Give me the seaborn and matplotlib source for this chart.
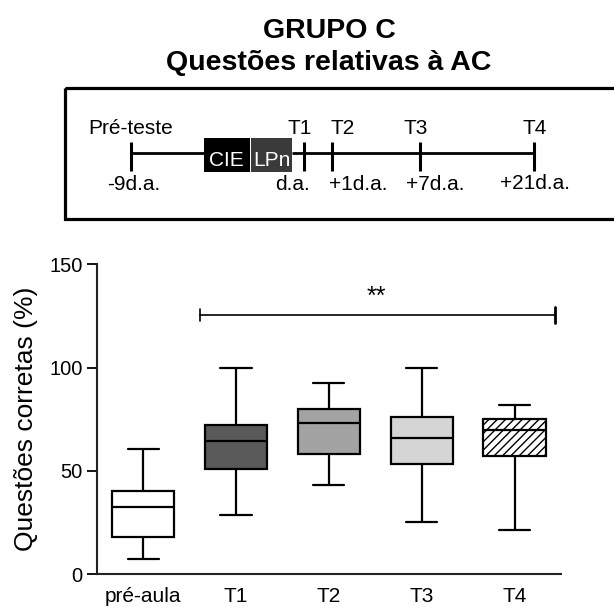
import numpy as np
import pandas as pd
import matplotlib
matplotlib.use("Agg")
import matplotlib.pyplot as plt
from matplotlib.patches import Rectangle
import seaborn as sns

# ---- data (five-number summaries) ----
groups = ["pré-aula", "T1", "T2", "T3", "T4"]
mins = [7.3, 28.6, 42.9, 25.0, 21.5]
q1s = [17.9, 50.8, 58.0, 53.4, 57.0]
medians = [32.4, 64.2, 73.0, 65.7, 69.6]
q3s = [40.0, 72.3, 80.1, 75.9, 74.9]
maxs = [60.5, 100.0, 92.5, 100.0, 82.0]
box_colors = ["#ffffff", "#595959", "#a3a3a3", "#d5d5d5", "#ffffff"]
yticks = [0, 50, 100, 150]

timeline_top = ["Pré-teste", "T1", "T2", "T3", "T4"]
timeline_bottom = ["-9d.a.", "d.a.", "+1d.a.", "+7d.a.", "+21d.a."]

rows = []
for g, a, b, c, d, e in zip(groups, mins, q1s, medians, q3s, maxs):
    for v in (a, b, c, d, e):
        rows.append({"grupo": g, "valor": v})
df = pd.DataFrame(rows)

sns.set_style("ticks")
plt.rcParams["font.family"] = ["Liberation Sans", "DejaVu Sans"]
plt.rcParams["hatch.linewidth"] = 1.0
for k in ("text.color", "axes.labelcolor", "xtick.color", "ytick.color", "axes.edgecolor"):
    plt.rcParams[k] = "black"

W, H = 614, 608
fig = plt.figure(figsize=(W / 100, H / 100), dpi=100)

# ---- overlay (title + timeline diagram) in pixel coordinates ----
ov = fig.add_axes([0, 0, 1, 1])
ov.set_xlim(0, W)
ov.set_ylim(H, 0)
ov.axis("off")
ov.patch.set_visible(False)

ov.text(329, 38.3, "GRUPO C", ha="center", va="baseline", fontsize=20.5, fontweight="bold")
ov.text(329, 70, "Questões relativas à AC", ha="center", va="baseline", fontsize=20.5, fontweight="bold")

ov.add_patch(Rectangle((65, 88.3), 600, 131, fill=False, lw=2.3, ec="black"))

line_y = 153.3
tick_x = [130.7, 304.3, 332.3, 420.0, 534.3]
ov.plot([130.7, 204], [line_y, line_y], color="black", lw=2.0, solid_capstyle="butt")
ov.plot([292.3, 534.3], [line_y, line_y], color="black", lw=2.0, solid_capstyle="butt")
for x in tick_x:
    ov.plot([x, x], [141.5, 171.0], color="black", lw=2.2, solid_capstyle="butt")
ov.add_patch(Rectangle((204, 138.3), 45.5, 34, color="black", lw=0))
ov.add_patch(Rectangle((250.7, 138.3), 41.6, 34, color="#3a3a3a", lw=0))
ov.text(226.8, 166.5, "CIE", color="white", ha="center", va="baseline", fontsize=15)
ov.text(271.5, 166.5, "LPn", color="white", ha="center", va="baseline", fontsize=15)

top_x = [131, 299.5, 342.5, 415.8, 535]
for x, t in zip(top_x, timeline_top):
    ov.text(x, 134.5, t, ha="center", va="baseline", fontsize=15)
bot_x = [133.3, 293, 358, 435, 535]
bot_y = [190, 190, 190, 190, 189]
for x, y, t in zip(bot_x, bot_y, timeline_bottom):
    ov.text(x, y, t, ha="center", va="baseline", fontsize=15)

# ---- box plot ----
ax = fig.add_axes([96.7 / W, 34 / H, (561 - 96.7) / W, (574 - 264.3) / H])
sns.boxplot(data=df, x="grupo", y="valor", hue="grupo", order=groups, hue_order=groups,
            palette=dict(zip(groups, box_colors)), legend=False, whis=(0, 100),
            width=0.67, linecolor="black", linewidth=1.6, saturation=1, fliersize=0, ax=ax)
for i, p in enumerate(ax.patches):
    if i == len(groups) - 1:
        p.set_hatch("////")

ax.set_xlim(-0.5, 4.5)
ax.set_ylim(0, 150)
ax.set_yticks(yticks)
ax.set_xlabel("")
ax.set_ylabel("Questões corretas (%)", fontsize=19, labelpad=8)
ax.tick_params(axis="x", length=0, labelsize=15, pad=9)
ax.tick_params(axis="y", length=7, width=1.3, labelsize=14.5, pad=3)
for s in ("top", "right"):
    ax.spines[s].set_visible(False)
for s in ("left", "bottom"):
    ax.spines[s].set_linewidth(1.5)
    ax.spines[s].set_color("#222222")

# significance bracket
bx0, bx1, by = 0.613, 4.435, 125.4
ax.plot([bx0, bx1], [by, by], color="black", lw=1.2)
ax.plot([bx0, bx0], [by - 3, by + 3], color="black", lw=1.2)
ax.plot([bx1, bx1], [by - 3.8, by + 3.8], color="black", lw=2.0)
ax.text(2.515, 128.5, "**", ha="center", va="bottom", fontsize=18)

fig.savefig("out.png", dpi=100)
